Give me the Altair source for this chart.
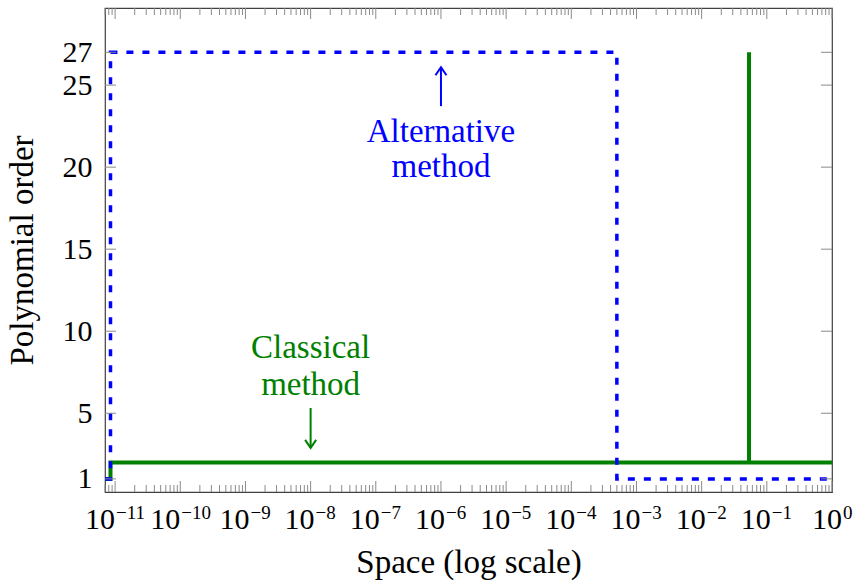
import altair as alt
import pandas as pd

# Polynomial order used across the spatial range, as step profiles
classical_x = [7e-12, 8.5e-12, 8.5e-12, 0.0533, 0.0533, 0.0533, 1.0]
classical_y = [1, 1, 2, 2, 27, 2, 2]
alternative_x = [7e-12, 8.5e-12, 8.5e-12, 5.0e-4, 5.0e-4, 1.0]
alternative_y = [1, 1, 27, 27, 1, 1]

# Axis ticks
x_major = [10.0 ** e for e in range(-11, 1)]
x_exponents = ["−11", "−10", "−9", "−8", "−7", "−6", "−5", "−4", "−3", "−2", "−1", "0"]
x_minor = [k * 10.0 ** e for e in range(-12, 0) for k in range(2, 10)
           if 6.99e-12 <= k * 10.0 ** e <= 1.0]
y_ticks = [1, 5, 10, 15, 20, 25, 27]

# Annotations
note_text = ["Alternative", "method", "Classical", "method"]
note_x = [1e-6, 1e-6, 1e-8, 1e-8]
note_y = [21.52, 19.39, 8.37, 6.12]
note_group = ["alt", "alt", "cls", "cls"]
arrow_x = [1e-6, 1e-8]
arrow_from = [23.72, 5.32]
arrow_to = [26.09, 2.89]
arrow_group = ["alt", "cls"]

W, H = 727, 484
FONT = "Liberation Serif"
BLUE = "#0000ff"
GREEN = "#008000"
TICK = "#8a8a8a"
MAJOR_LEN, MINOR_LEN = 11, 7

xs = alt.Scale(type="log", domain=[7e-12, 1.0], nice=False)
ys = alt.Scale(domain=[0.2, 29.7], nice=False, zero=False)

classical = pd.DataFrame({"x": classical_x, "y": classical_y, "i": range(len(classical_x))})
alternative = pd.DataFrame({"x": alternative_x, "y": alternative_y, "i": range(len(alternative_x))})
majors = pd.DataFrame({"v": x_major, "exp": x_exponents, "n": [len(s) for s in x_exponents]})
minors = pd.DataFrame({"v": x_minor})
yt = pd.DataFrame({"v": y_ticks})
notes = pd.DataFrame({"x": note_x, "y": note_y, "t": note_text, "g": note_group})
arrows = pd.DataFrame({"x": arrow_x, "y": arrow_from, "y2": arrow_to, "g": arrow_group})

# One shared definition per axis, reused by every layer that encodes the field
x_axis = alt.Axis(title="Space (log scale)", labels=False, ticks=False, domain=False,
                  grid=False, titleFont=FONT, titleFontSize=33, titleFontWeight="normal",
                  titleColor="black", titleX=W / 2, titleY=80, titleAlign="center",
                  titleBaseline="alphabetic")
y_axis = alt.Axis(title="Polynomial order", values=y_ticks, ticks=False, domain=False,
                  grid=False, labelFont=FONT, labelFontSize=30, labelColor="black",
                  labelPadding=13, labelOverlap=False, labelBaseline="middle",
                  titleFont=FONT, titleFontSize=33, titleFontWeight="normal",
                  titleColor="black", titleX=-73, titleY=H / 2,
                  titleAlign="center", titleBaseline="alphabetic")


def X(field):
    return alt.X(field, scale=xs, axis=x_axis)


def Y(field):
    return alt.Y(field, scale=ys, axis=y_axis)


classical_line = alt.Chart(classical).mark_line(
    color=GREEN, strokeWidth=4, strokeJoin="miter", strokeCap="butt"
).encode(x=X("x:Q"), y=Y("y:Q"), order=alt.Order("i:Q"))

alternative_line = alt.Chart(alternative).mark_line(
    color=BLUE, strokeWidth=3.5, strokeDash=[7, 9], strokeCap="butt", strokeJoin="miter"
).encode(x=X("x:Q"), y=Y("y:Q"), order=alt.Order("i:Q"))


def x_ticks(df, length):
    base = alt.Chart(df).mark_rule(color=TICK, strokeWidth=1)
    top = base.encode(x=X("v:Q"), y=alt.value(0), y2=alt.value(length))
    bottom = base.encode(x=X("v:Q"), y=alt.value(H), y2=alt.value(H - length))
    return [top, bottom]


y_base = alt.Chart(yt).mark_rule(color=TICK, strokeWidth=1)
y_left = y_base.encode(y=Y("v:Q"), x=alt.value(0), x2=alt.value(MAJOR_LEN))
y_right = y_base.encode(y=Y("v:Q"), x=alt.value(W), x2=alt.value(W - MAJOR_LEN))


# Tick labels of the form 10^k: a base "10" and a raised exponent
def power_labels(n, shift):
    sel = alt.Chart(majors).transform_filter(f"datum.n == {n}")
    base = sel.mark_text(text="10", font=FONT, fontSize=30, align="right",
                         baseline="alphabetic", dx=shift, color="black").encode(
        x=X("v:Q"), y=alt.value(H + 37))
    sup = sel.mark_text(font=FONT, fontSize=19, align="left",
                        baseline="alphabetic", dx=shift + 1, color="black").encode(
        x=X("v:Q"), y=alt.value(H + 27), text="exp:N")
    return [base, sup]


def note_layer(g, color):
    return alt.Chart(notes).transform_filter(f"datum.g == '{g}'").mark_text(
        font=FONT, fontSize=33, align="center", baseline="alphabetic", color=color
    ).encode(x=X("x:Q"), y=Y("y:Q"), text="t:N")


def arrow_layers(g, color, head):
    sel = alt.Chart(arrows).transform_filter(f"datum.g == '{g}'")
    shaft = sel.mark_rule(color=color, strokeWidth=2).encode(
        x=X("x:Q"), y=Y("y:Q"), y2="y2:Q")
    tip = sel.mark_point(shape=head, size=256, filled=False, color=color,
                         strokeWidth=2, opacity=1).encode(x=X("x:Q"), y=Y("y2:Q"))
    return [shaft, tip]


layers = [classical_line, alternative_line]
layers += x_ticks(minors, MINOR_LEN) + x_ticks(majors, MAJOR_LEN) + [y_left, y_right]
layers += power_labels(3, 0) + power_labels(2, 4) + power_labels(1, 10)
layers += [note_layer("alt", BLUE), note_layer("cls", GREEN)]
layers += arrow_layers("alt", BLUE, "M-0.69,1L0,0L0.69,1")
layers += arrow_layers("cls", GREEN, "M-0.69,-1L0,0L0.69,-1")

chart = alt.layer(*layers).properties(
    width=W, height=H,
    autosize=alt.AutoSizeParams(type="none"),
    padding={"left": 105, "top": 8, "right": 24, "bottom": 94},
).configure_view(stroke="#404040", strokeWidth=1.2)

chart.save("out.html", embed_options={"renderer": "svg", "actions": False})
